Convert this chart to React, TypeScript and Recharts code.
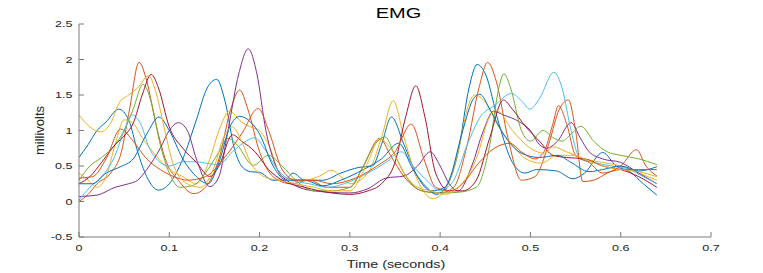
import React from 'react';
import { LineChart, Line, XAxis, YAxis } from 'recharts';

type P = [number, number];

const xTicks = [0, 0.1, 0.2, 0.3, 0.4, 0.5, 0.6, 0.7];
const yTicks = [-0.5, 0, 0.5, 1, 1.5, 2, 2.5];

const blueA: P[] = [[0,0.62],[0.01,0.8],[0.02,1.0],[0.03,1.12],[0.044,1.30],[0.055,1.15],[0.065,0.7],[0.075,0.35],[0.088,0.16],[0.1,0.25],[0.115,0.6],[0.13,1.15],[0.142,1.6],[0.1525,1.72],[0.162,1.4],[0.172,0.75],[0.18,0.5],[0.19,0.42],[0.2,0.41],[0.215,0.3],[0.228,0.3],[0.237,0.40],[0.25,0.3],[0.27,0.3],[0.29,0.4],[0.31,0.48],[0.325,0.5],[0.335,0.8],[0.346,1.19],[0.36,0.8],[0.375,0.35],[0.39,0.15],[0.405,0.2],[0.42,0.7],[0.432,1.6],[0.441,1.93],[0.45,1.8],[0.465,1.1],[0.48,0.55],[0.494,0.40],[0.507,0.45],[0.529,0.43],[0.547,0.32],[0.56,0.4],[0.58,0.69],[0.595,0.5],[0.61,0.42],[0.625,0.25],[0.64,0.09]];
const orangeA: P[] = [[0,0.0],[0.01,0.1],[0.02,0.25],[0.035,0.4],[0.047,0.7],[0.056,1.3],[0.0665,1.96],[0.075,1.7],[0.085,1.1],[0.097,0.55],[0.11,0.3],[0.127,0.11],[0.14,0.2],[0.155,0.6],[0.168,1.3],[0.178,1.57],[0.187,1.3],[0.2,0.7],[0.215,0.35],[0.235,0.25],[0.255,0.3],[0.275,0.2],[0.3,0.2],[0.315,0.5],[0.333,0.89],[0.345,0.65],[0.36,0.35],[0.38,0.15],[0.4,0.12],[0.415,0.2],[0.43,0.8],[0.443,1.6],[0.4526,1.96],[0.462,1.7],[0.475,0.9],[0.49,0.3],[0.505,0.35],[0.52,0.8],[0.532,1.3],[0.542,1.43],[0.55,1.0],[0.558,0.28],[0.57,0.3],[0.585,0.4],[0.6,0.5],[0.6175,0.73],[0.628,0.5],[0.64,0.36]];
const yellowA: P[] = [[0,0.4],[0.01,0.3],[0.02,0.2],[0.03,0.35],[0.04,0.8],[0.05,1.15],[0.06,1.1],[0.07,0.9],[0.085,0.65],[0.1,0.45],[0.115,0.35],[0.13,0.25],[0.145,0.6],[0.155,1.0],[0.167,1.27],[0.18,1.12],[0.19,1.05],[0.2,1.0],[0.21,0.8],[0.225,0.35],[0.25,0.3],[0.265,0.35],[0.28,0.44],[0.29,0.35],[0.3,0.25],[0.32,0.4],[0.335,0.9],[0.348,1.42],[0.36,0.9],[0.375,0.3],[0.392,0.04],[0.405,0.15],[0.42,0.7],[0.43,1.3],[0.438,1.50],[0.45,1.4],[0.465,1.05],[0.48,0.8],[0.495,0.6],[0.512,0.54],[0.53,0.65],[0.545,0.65],[0.56,0.6],[0.58,0.55],[0.6,0.5],[0.62,0.4],[0.64,0.3]];
const purple: P[] = [[0,0.07],[0.02,0.09],[0.04,0.2],[0.055,0.25],[0.065,0.3],[0.075,0.45],[0.09,0.75],[0.1,1.0],[0.11,1.11],[0.12,1.0],[0.13,0.6],[0.145,0.21],[0.155,0.35],[0.165,1.0],[0.177,1.8],[0.1875,2.15],[0.197,1.8],[0.207,1.0],[0.218,0.5],[0.23,0.3],[0.26,0.15],[0.3,0.12],[0.32,0.18],[0.34,0.33],[0.36,0.36],[0.375,0.5],[0.389,0.70],[0.4,0.5],[0.41,0.25],[0.42,0.15],[0.435,0.5],[0.448,1.0],[0.459,1.27],[0.47,1.22],[0.488,1.12],[0.5,1.0],[0.51,0.8],[0.518,0.75],[0.53,0.85],[0.545,1.11],[0.555,0.9],[0.565,0.7],[0.58,0.6],[0.6,0.55],[0.62,0.4],[0.64,0.25]];
const green: P[] = [[0,0.3],[0.012,0.5],[0.025,0.62],[0.04,0.8],[0.05,1.0],[0.06,1.3],[0.071,1.65],[0.08,1.4],[0.09,0.8],[0.1,0.4],[0.112,0.2],[0.125,0.22],[0.14,0.4],[0.155,0.7],[0.165,0.89],[0.175,0.8],[0.193,0.51],[0.21,0.65],[0.225,0.5],[0.24,0.3],[0.26,0.15],[0.28,0.15],[0.3,0.2],[0.315,0.5],[0.325,0.75],[0.339,0.91],[0.35,0.65],[0.365,0.3],[0.38,0.15],[0.4,0.12],[0.42,0.13],[0.44,0.2],[0.455,0.8],[0.465,1.6],[0.4707,1.8],[0.478,1.6],[0.49,1.0],[0.5,0.85],[0.514,1.0],[0.525,0.9],[0.535,0.85],[0.545,0.95],[0.556,1.06],[0.57,0.85],[0.585,0.7],[0.6,0.65],[0.62,0.6],[0.64,0.52]];
const lightBlue: P[] = [[0,0.02],[0.012,0.2],[0.025,0.35],[0.04,0.65],[0.05,1.0],[0.059,1.22],[0.068,1.1],[0.078,0.75],[0.09,0.55],[0.1,0.5],[0.115,0.56],[0.13,0.56],[0.145,0.53],[0.155,0.52],[0.17,0.7],[0.185,0.85],[0.195,0.9],[0.205,0.75],[0.22,0.45],[0.235,0.3],[0.255,0.25],[0.275,0.2],[0.3,0.28],[0.32,0.4],[0.34,0.55],[0.357,0.70],[0.37,0.5],[0.385,0.3],[0.4,0.15],[0.415,0.3],[0.43,0.8],[0.445,1.2],[0.46,1.35],[0.479,1.52],[0.49,1.42],[0.4994,1.30],[0.51,1.45],[0.526,1.82],[0.535,1.6],[0.545,1.0],[0.555,0.6],[0.57,0.55],[0.59,0.5],[0.61,0.45],[0.625,0.35],[0.64,0.25]];
const darkRed: P[] = [[0,0.25],[0.012,0.35],[0.025,0.55],[0.04,0.8],[0.052,0.95],[0.06,1.1],[0.07,1.5],[0.08,1.79],[0.088,1.6],[0.1,1.05],[0.115,0.75],[0.13,0.55],[0.145,0.35],[0.155,0.5],[0.17,0.94],[0.18,0.85],[0.195,0.7],[0.21,0.45],[0.225,0.3],[0.25,0.2],[0.28,0.12],[0.3,0.1],[0.32,0.15],[0.335,0.25],[0.35,0.55],[0.362,1.2],[0.373,1.63],[0.383,1.2],[0.395,0.4],[0.41,0.15],[0.425,0.15],[0.44,0.3],[0.455,0.9],[0.47,1.43],[0.48,1.3],[0.495,1.05],[0.51,0.85],[0.525,0.65],[0.54,0.62],[0.56,0.6],[0.58,0.5],[0.6,0.45],[0.62,0.35],[0.64,0.2]];
const blueB: P[] = [[0,0.25],[0.015,0.25],[0.03,0.4],[0.046,0.49],[0.06,0.6],[0.075,0.95],[0.0886,1.19],[0.1,1.0],[0.115,0.6],[0.13,0.35],[0.143,0.25],[0.155,0.55],[0.167,1.05],[0.178,1.2],[0.19,1.12],[0.2,0.95],[0.215,0.5],[0.23,0.3],[0.25,0.3],[0.27,0.22],[0.29,0.3],[0.315,0.45],[0.335,0.6],[0.354,0.82],[0.37,0.45],[0.385,0.2],[0.396,0.1],[0.41,0.3],[0.425,1.0],[0.437,1.45],[0.444,1.51],[0.455,1.3],[0.47,0.95],[0.49,0.68],[0.51,0.62],[0.53,0.65],[0.545,0.55],[0.565,0.42],[0.58,0.45],[0.6,0.5],[0.62,0.43],[0.64,0.49]];
const orangeB: P[] = [[0,0.33],[0.015,0.35],[0.03,0.6],[0.046,1.02],[0.06,0.85],[0.075,0.6],[0.09,0.45],[0.105,0.35],[0.12,0.3],[0.14,0.35],[0.16,0.6],[0.18,0.95],[0.1986,1.31],[0.21,1.0],[0.225,0.45],[0.24,0.3],[0.26,0.3],[0.28,0.25],[0.3,0.3],[0.33,0.5],[0.35,0.7],[0.368,1.09],[0.382,0.6],[0.395,0.2],[0.41,0.15],[0.425,0.25],[0.44,0.5],[0.46,0.75],[0.477,0.82],[0.49,0.7],[0.505,0.6],[0.515,0.7],[0.525,1.1],[0.531,1.35],[0.54,1.1],[0.55,0.65],[0.565,0.55],[0.58,0.4],[0.6,0.45],[0.62,0.45],[0.64,0.45]];
const yellowB: P[] = [[0,1.22],[0.012,1.05],[0.024,0.98],[0.035,1.1],[0.045,1.4],[0.055,1.5],[0.065,1.6],[0.077,1.77],[0.086,1.5],[0.095,1.0],[0.105,0.5],[0.12,0.25],[0.135,0.2],[0.15,0.5],[0.16,0.9],[0.17,1.05],[0.18,0.85],[0.19,0.55],[0.205,0.35],[0.22,0.3],[0.24,0.25],[0.26,0.2],[0.28,0.15],[0.3,0.15],[0.318,0.5],[0.333,0.88],[0.345,0.75],[0.36,0.4],[0.375,0.2],[0.39,0.15],[0.405,0.1],[0.42,0.2],[0.44,0.6],[0.455,1.2],[0.462,1.29],[0.48,1.0],[0.5,0.75],[0.515,0.68],[0.525,0.77],[0.54,0.7],[0.56,0.6],[0.58,0.5],[0.6,0.45],[0.62,0.42],[0.64,0.35]];

const seriesList: { name: string; pts: P[]; color: string }[] = [
  { name: 'blueA', pts: blueA, color: '#0072BD' },
  { name: 'orangeA', pts: orangeA, color: '#D95319' },
  { name: 'yellowA', pts: yellowA, color: '#EDB120' },
  { name: 'purple', pts: purple, color: '#7E2F8E' },
  { name: 'green', pts: green, color: '#77AC30' },
  { name: 'lightBlue', pts: lightBlue, color: '#4DBEEE' },
  { name: 'darkRed', pts: darkRed, color: '#A2142F' },
  { name: 'blueB', pts: blueB, color: '#0072BD' },
  { name: 'orangeB', pts: orangeB, color: '#D95319' },
  { name: 'yellowB', pts: yellowB, color: '#EDB120' },
];

const FONT = '"Liberation Sans", Arial, Helvetica, sans-serif';
const X_MARGIN = 8;
const Y_MARGIN = 6;
const STRETCH = 1.4;

const XTick = (props: any) => {
  const { x, y, payload } = props;
  const axisY = y - X_MARGIN;
  return (
    <g>
      <line x1={x} x2={x} y1={axisY} y2={axisY - 5} stroke="#7a7a7a" strokeWidth={1} />
      <text
        transform={`translate(${x},${axisY + 14.4}) scale(${STRETCH},1)`}
        x={0}
        y={0}
        textAnchor="middle"
        fontSize={9}
        fill="#262626"
        fontFamily={FONT}
      >
        {String(payload.value)}
      </text>
    </g>
  );
};

const YTick = (props: any) => {
  const { x, y, payload } = props;
  const axisX = x + Y_MARGIN;
  return (
    <g>
      <line x1={axisX} x2={axisX + 5} y1={y} y2={y} stroke="#7a7a7a" strokeWidth={1} />
      <text
        transform={`translate(${axisX - 6.5},${y + 3.3}) scale(${STRETCH},1)`}
        x={0}
        y={0}
        textAnchor="end"
        fontSize={9}
        fill="#262626"
        fontFamily={FONT}
      >
        {String(payload.value)}
      </text>
    </g>
  );
};

export default function App() {
  return (
    <div style={{ width: 763, height: 273, position: 'relative', background: '#fff' }}>
      <style>{'body{margin:0;}'}</style>
      <LineChart width={763} height={273} margin={{ top: 24, right: 52, left: 0, bottom: 0 }}>
        <XAxis
          dataKey="t"
          type="number"
          domain={[0, 0.7]}
          ticks={xTicks}
          allowDataOverflow
          height={36}
          tickSize={0}
          tickMargin={X_MARGIN}
          tick={<XTick />}
          axisLine={{ stroke: '#7a7a7a', strokeWidth: 1 }}
          tickLine={false}
          interval={0}
        />
        <YAxis
          type="number"
          domain={[-0.5, 2.5]}
          ticks={yTicks}
          allowDataOverflow
          width={79}
          tickSize={0}
          tickMargin={Y_MARGIN}
          tick={<YTick />}
          axisLine={{ stroke: '#7a7a7a', strokeWidth: 1 }}
          tickLine={false}
          interval={0}
        />
        {seriesList.map((s) => (
          <Line
            key={s.name}
            data={s.pts.map(([t, v]) => ({ t, v }))}
            dataKey="v"
            type="monotone"
            stroke={s.color}
            strokeWidth={1}
            dot={false}
            activeDot={false}
            isAnimationActive={false}
          />
        ))}
      </LineChart>
      <svg
        width={763}
        height={273}
        style={{ position: 'absolute', left: 0, top: 0, pointerEvents: 'none' }}
      >
        <text
          transform={`translate(398.5,18.3) scale(1.43,1)`}
          textAnchor="middle"
          fontFamily={FONT}
          fontSize={14}
          fill="#000"
        >
          EMG
        </text>
        <text
          transform={`translate(396,267.5) scale(1.44,1)`}
          textAnchor="middle"
          fontFamily={FONT}
          fontSize={10}
          fill="#262626"
        >
          Time (seconds)
        </text>
        <text
          transform={`translate(43.5,130.5) rotate(-90)`}
          textAnchor="middle"
          fontFamily={FONT}
          fontSize={13}
          fill="#262626"
        >
          millivolts
        </text>
      </svg>
    </div>
  );
}
